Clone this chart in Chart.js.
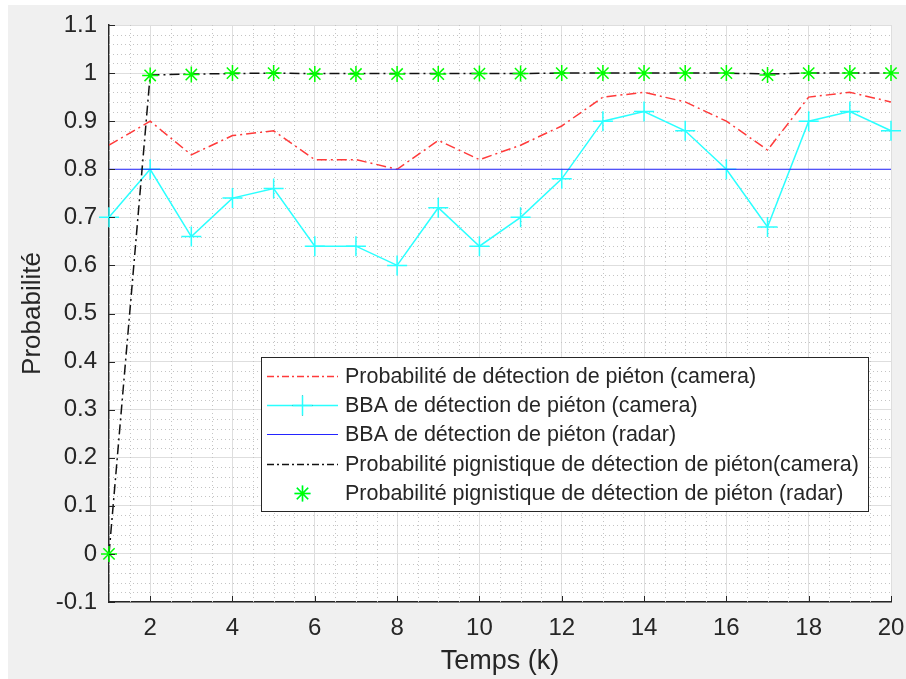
<!DOCTYPE html>
<html>
<head>
<meta charset="utf-8">
<title>Probabilité de détection de piéton</title>
<script src="https://cdn.jsdelivr.net/npm/chart.js@4.4.1/dist/chart.umd.min.js"></script>
<style>
  html, body { margin: 0; padding: 0; background: #fff; }
  #wrap { position: relative; width: 906px; height: 679px; }
  #bg { position: absolute; left: 8px; top: 5px; right: 0; bottom: 0; background: #f0f0f0; }
  #chart { position: absolute; left: 0; top: 0; }
</style>
</head>
<body>
<div id="wrap">
  <div id="bg"></div>
  <canvas id="chart" width="906" height="679"></canvas>
</div>
<script>
/* ---------- data ---------- */
const steps = [1, 2, 3, 4, 5, 6, 7, 8, 9, 10, 11, 12, 13, 14, 15, 16, 17, 18, 19, 20];
const probCamera = [0.85, 0.90, 0.83, 0.87, 0.88, 0.82, 0.82, 0.80, 0.86, 0.82, 0.85, 0.89, 0.95, 0.96, 0.94, 0.90, 0.84, 0.95, 0.96, 0.94];
const bbaCamera  = [0.70, 0.80, 0.66, 0.74, 0.76, 0.64, 0.64, 0.60, 0.72, 0.64, 0.70, 0.78, 0.90, 0.92, 0.88, 0.80, 0.68, 0.90, 0.92, 0.88];
const bbaRadar   = [0.80, 0.80, 0.80, 0.80, 0.80, 0.80, 0.80, 0.80, 0.80, 0.80, 0.80, 0.80, 0.80, 0.80, 0.80, 0.80, 0.80, 0.80, 0.80, 0.80];
const pignCamera = [0, 0.996, 0.998, 0.999, 1, 0.999, 0.999, 0.999, 0.999, 0.999, 0.999, 1, 1, 1, 1, 1, 0.998, 1, 1, 1];
const pignRadar  = [0, 0.995, 0.997, 1, 1, 0.998, 0.998, 0.998, 0.998, 0.999, 0.999, 1, 1, 1, 1, 1, 0.996, 1, 1, 1];

const xTicks = [2, 4, 6, 8, 10, 12, 14, 16, 18, 20];
const yMin = -0.1, yMax = 1.1, yStep = 0.1;

const labels = [
  'Probabilité de détection de piéton (camera)',
  'BBA de détection de piéton (camera)',
  'BBA de détection de piéton (radar)',
  'Probabilité pignistique de détection de piéton(camera)',
  'Probabilité pignistique de détection de piéton (radar)',
];

const toXY = (vals) => vals.map((v, i) => ({ x: steps[i], y: v }));

const TEXT = '#262626';
const FONT = '"Liberation Sans", Arial, Helvetica, sans-serif';

/* ---------- plugins ---------- */
// white plot background
const plotBg = {
  id: 'plotBg',
  beforeDraw(chart) {
    const { ctx, chartArea: a } = chart;
    ctx.save();
    ctx.fillStyle = '#fff';
    ctx.fillRect(a.left, a.top, a.right - a.left, a.bottom - a.top);
    ctx.restore();
  },
};

// dotted minor grid, like MATLAB's "grid minor"
const minorGrid = {
  id: 'minorGrid',
  beforeDatasetsDraw(chart) {
    const { ctx, chartArea: a, scales: { x, y } } = chart;
    ctx.save();
    ctx.strokeStyle = '#c4c4c4';
    ctx.lineWidth = 1;
    ctx.setLineDash([1, 3]);
    ctx.beginPath();
    for (let v = x.min + 0.5; v < x.max - 0.01; v += 0.5) {
      if (Math.abs(v / 2 - Math.round(v / 2)) < 1e-6) continue;
      const px = Math.round(x.getPixelForValue(v)) + 0.5;
      ctx.moveTo(px, a.top);
      ctx.lineTo(px, a.bottom);
    }
    for (let i = 1; i < Math.round((yMax - yMin) / 0.02); i++) {
      if (i % 5 === 0) continue;
      const py = Math.round(y.getPixelForValue(yMin + i * 0.02)) + 0.5;
      ctx.moveTo(a.left, py);
      ctx.lineTo(a.right, py);
    }
    ctx.stroke();
    ctx.restore();
  },
};

// inward tick marks on left and bottom axes
const innerTicks = {
  id: 'innerTicks',
  afterDraw(chart) {
    const { ctx, chartArea: a, scales: { x, y } } = chart;
    ctx.save();
    ctx.strokeStyle = TEXT;
    ctx.lineWidth = 1;
    ctx.beginPath();
    x.ticks.forEach((t) => {
      const px = Math.round(x.getPixelForValue(t.value)) + 0.5;
      ctx.moveTo(px, a.bottom);
      ctx.lineTo(px, a.bottom - 6);
    });
    y.ticks.forEach((t) => {
      const py = Math.round(y.getPixelForValue(t.value)) + 0.5;
      ctx.moveTo(a.left, py);
      ctx.lineTo(a.left + 6, py);
    });
    ctx.stroke();
    ctx.restore();
  },
};

// legend box inside the axes
const boxLegend = {
  id: 'boxLegend',
  afterDraw(chart) {
    const { ctx } = chart;
    const box = { left: 261, top: 357, right: 868, bottom: 511 };
    ctx.save();
    ctx.fillStyle = '#fff';
    ctx.fillRect(box.left, box.top, box.right - box.left, box.bottom - box.top);
    ctx.strokeStyle = TEXT;
    ctx.lineWidth = 1;
    ctx.strokeRect(box.left + 0.5, box.top + 0.5, box.right - box.left, box.bottom - box.top);

    chart.data.datasets.forEach((ds, i) => {
      const cy = Math.round(376 + i * 29.2) + 0.5;
      const x0 = 267, x1 = 338, xm = 302.5;
      if (ds.showLine !== false) {
        ctx.save();
        ctx.strokeStyle = ds.borderColor;
        ctx.lineWidth = ds.borderWidth;
        ctx.setLineDash(ds.legendDash || []);
        ctx.beginPath();
        ctx.moveTo(x0, cy);
        ctx.lineTo(x1, cy);
        ctx.stroke();
        ctx.restore();
      }
      if (ds.pointRadius > 0) {
        Chart.helpers.drawPoint(ctx, {
          pointStyle: ds.pointStyle,
          radius: ds.pointRadius,
          borderWidth: ds.pointBorderWidth,
          rotation: 0,
        }, xm, cy);
        ctx.strokeStyle = ds.pointBorderColor;
        ctx.lineWidth = ds.pointBorderWidth;
        ctx.stroke();
      }
      ctx.fillStyle = TEXT;
      ctx.font = '21.5px ' + FONT;
      ctx.textBaseline = 'middle';
      ctx.textAlign = 'left';
      ctx.fillText(ds.label, 345, cy + 1);
    });
    ctx.restore();
  },
};

/* ---------- chart ---------- */
new Chart(document.getElementById('chart'), {
  type: 'line',
  data: {
    datasets: [
      {
        label: labels[0],
        data: toXY(probCamera),
        borderColor: '#ff3a3a',
        borderWidth: 1.5,
        borderDash: [10, 4, 2, 4],
        legendDash: [7, 3, 2, 3],
        pointRadius: 0,
        order: 5,
      },
      {
        label: labels[1],
        data: toXY(bbaCamera),
        borderColor: '#2affff',
        borderWidth: 1.5,
        pointStyle: 'cross',
        pointRadius: 10,
        pointBorderWidth: 1.5,
        pointBorderColor: '#2affff',
        clip: false,
        order: 4,
      },
      {
        label: labels[2],
        data: toXY(bbaRadar),
        borderColor: '#2424ff',
        borderWidth: 1.2,
        pointRadius: 0,
        order: 3,
      },
      {
        label: labels[3],
        data: toXY(pignCamera),
        borderColor: '#111',
        borderWidth: 1.5,
        borderDash: [10, 4, 2, 4],
        legendDash: [7, 3, 2, 3],
        pointRadius: 0,
        order: 2,
      },
      {
        label: labels[4],
        data: toXY(pignRadar),
        showLine: false,
        borderColor: '#00ff00',
        pointStyle: 'star',
        pointRadius: 8,
        pointBorderWidth: 1.5,
        pointBorderColor: '#00ff00',
        clip: false,
        order: 1,
      },
    ],
  },
  options: {
    responsive: false,
    animation: false,
    events: [],
    layout: { padding: { left: 0, top: 25, right: 15, bottom: 0 } },
    plugins: {
      legend: { display: false },
      tooltip: { enabled: false },
    },
    scales: {
      x: {
        type: 'linear',
        min: steps[0],
        max: steps[steps.length - 1],
        afterBuildTicks: (scale) => { scale.ticks = xTicks.map((v) => ({ value: v })); },
        afterFit: (scale) => {
          scale.height = 77;
          scale.paddingLeft = 0;
          scale.paddingRight = 0;
        },
        grid: { color: '#dedede', lineWidth: 1, drawTicks: false },
        border: { display: true, color: TEXT, width: 1.5 },
        ticks: {
          autoSkip: false,
          maxRotation: 0,
          padding: 12,
          color: TEXT,
          font: { family: FONT, size: 24 },
          callback: (v) => String(v),
        },
        title: {
          display: true,
          text: 'Temps (k)',
          color: TEXT,
          font: { family: FONT, size: 27 },
          padding: { top: 0, bottom: 1 },
        },
      },
      y: {
        min: yMin,
        max: yMax,
        afterFit: (scale) => {
          scale.width = 109;
          scale.paddingTop = 0;
          scale.paddingBottom = 0;
        },
        grid: { color: '#dedede', lineWidth: 1, drawTicks: false },
        border: { display: true, color: TEXT, width: 1.5 },
        ticks: {
          stepSize: yStep,
          autoSkip: false,
          padding: 12,
          color: TEXT,
          font: { family: FONT, size: 24 },
          callback: (v) => String(Math.round(v * 10) / 10),
        },
        title: {
          display: true,
          text: 'Probabilité',
          color: TEXT,
          font: { family: FONT, size: 26 },
          padding: { top: 17, bottom: 0 },
        },
      },
    },
  },
  plugins: [plotBg, minorGrid, innerTicks, boxLegend],
});
</script>
</body>
</html>
